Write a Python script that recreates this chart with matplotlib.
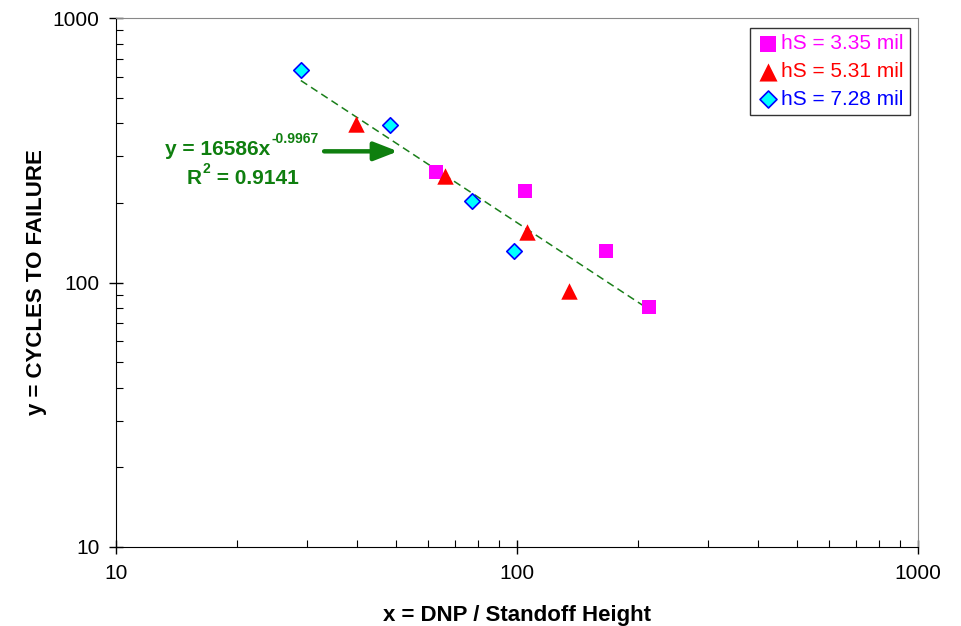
import numpy as np
import matplotlib.pyplot as plt
from matplotlib.ticker import LogLocator, NullFormatter, FixedLocator

plt.rcParams['font.family'] = ['Liberation Sans', 'DejaVu Sans']

# data
x_335 = [62.8, 104.7, 166.7, 213.0]
y_335 = [262, 222, 131, 80.8]
x_531 = [39.7, 66.1, 106.0, 134.9]
y_531 = [397, 253, 155, 92.9]
x_728 = [28.9, 48.2, 77.3, 98.3]
y_728 = [636, 394, 203, 131]

# power trendline shown on chart: y = 16586 x^-0.9967
coef = 16586
expo = -0.9967
r2 = 0.9141

fig = plt.figure(figsize=(9.62, 6.26), dpi=100)
ax = fig.add_axes([0.1206, 0.1262, 0.8337, 0.845])

all_x = x_335 + x_531 + x_728
xt = np.array([min(all_x), max(all_x)])
ax.plot(xt, coef * xt ** expo, color='#1a7f1a', ls=(0, (5, 3)), lw=1.1, zorder=2)

ax.scatter(x_335, y_335, marker='s', s=115, color='#ff00ff', lw=0, zorder=3,
           label='hS = 3.35 mil')
ax.scatter(x_531, y_531, marker='^', s=140, color='#ff0000', lw=0, zorder=3,
           label='hS = 5.31 mil')
ax.scatter(x_728, y_728, marker='D', s=62, facecolor='#00ffff', edgecolor='#0000ff',
           lw=1.2, zorder=4, label='hS = 7.28 mil')

ax.set_xscale('log')
ax.set_yscale('log')
ax.set_xlim(10, 1000)
ax.set_ylim(10, 1000)
ax.xaxis.set_major_locator(FixedLocator([10, 100, 1000]))
ax.yaxis.set_major_locator(FixedLocator([10, 100, 1000]))
ax.set_xticklabels(['10', '100', '1000'])
ax.set_yticklabels(['10', '100', '1000'])
ax.xaxis.set_minor_locator(LogLocator(subs=np.arange(2, 10)))
ax.yaxis.set_minor_locator(LogLocator(subs=np.arange(2, 10)))
ax.xaxis.set_minor_formatter(NullFormatter())
ax.yaxis.set_minor_formatter(NullFormatter())
ax.tick_params(which='major', direction='inout', length=10, width=1, labelsize=15, pad=7)
ax.tick_params(which='minor', direction='in', length=5, width=0.8)
ax.tick_params(top=False, right=False, which='both')

ax.spines['left'].set_color('black')
ax.spines['bottom'].set_color('black')
ax.spines['top'].set_color('#888888')
ax.spines['right'].set_color('#888888')

ax.set_xlabel('x = DNP / Standoff Height', fontsize=16, fontweight='bold', labelpad=16)
ax.set_ylabel('y = CYCLES TO FAILURE', fontsize=16, fontweight='bold', labelpad=4)

leg = ax.legend(loc='upper right', bbox_to_anchor=(0.990, 0.981), fontsize=15,
                frameon=True, fancybox=False, handletextpad=0.1, handlelength=1.1,
                borderpad=0.3, labelspacing=0.42, borderaxespad=0, markerscale=1.1)
leg.get_frame().set_edgecolor('black')
leg.get_frame().set_linewidth(1)
for txt, c in zip(leg.get_texts(), ['#ff00ff', '#ff0000', '#0000ff']):
    txt.set_color(c)

# trendline label: pieces placed one after the other
green = '#0f7f0f'
fig.canvas.draw()
rend = fig.canvas.get_renderer()

t1 = ax.text(0.0611, 0.741, 'y = 16586x', transform=ax.transAxes, color=green,
             fontsize=15, fontweight='bold', ha='left', va='baseline')
bb = t1.get_window_extent(rend)
ax.text(bb.x1 + 1, bb.y0 + 16, '-0.9967', transform=None, color=green,
        fontsize=10, fontweight='bold', ha='left', va='baseline')

t2 = ax.text(0.0885, 0.686, 'R', transform=ax.transAxes, color=green,
             fontsize=15, fontweight='bold', ha='left', va='baseline')
bb2 = t2.get_window_extent(rend)
t3 = ax.text(bb2.x1 + 1, bb2.y0 + 15, '2', transform=None, color=green,
             fontsize=10, fontweight='bold', ha='left', va='baseline')
bb3 = t3.get_window_extent(rend)
ax.text(bb3.x1, bb2.y0, ' = %.4f' % r2, transform=None, color=green,
        fontsize=15, fontweight='bold', ha='left', va='bottom')

ax.annotate('', xy=(0.355, 0.748), xytext=(0.256, 0.748), xycoords='axes fraction',
            arrowprops=dict(arrowstyle='-|>,head_length=0.9,head_width=0.35',
                            color=green, lw=3.2, mutation_scale=16))

fig.savefig('out.png', dpi=100)
